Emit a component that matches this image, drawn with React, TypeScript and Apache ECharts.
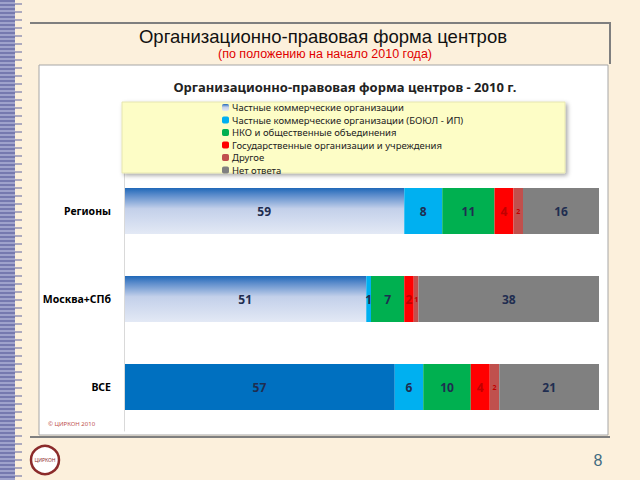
import React, { useEffect, useRef } from "react";
import * as echarts from "echarts";

const categories = ["Регионы", "Москва+СПб", "ВСЕ"];
const seriesNames = [
  "Частные коммерческие организации",
  "Частные коммерческие организации (БОЮЛ - ИП)",
  "НКО и общественные объединения",
  "Государственные организации и учреждения",
  "Другое",
  "Нет ответа",
];
const privateCommercial = [59, 51, 57];
const privateBoyul = [8, 1, 6];
const nko = [11, 7, 10];
const stateOrgs = [4, 2, 4];
const other = [2, 1, 2];
const noAnswer = [16, 38, 21];

const slideTitle = "Организационно-правовая форма центров";
const slideSubtitle = "(по положению на начало 2010 года)";
const chartTitle = "Организационно-правовая форма центров - 2010 г.";
const copyright = "© ЦИРКОН 2010";
const pageNumber = "8";

export default function App() {
  const ref = useRef<HTMLDivElement>(null);
  useEffect(() => {
    if (!ref.current) return;
    const chart = echarts.init(ref.current, null, { renderer: "svg" });
    const grad = new echarts.graphic.LinearGradient(0, 0, 0, 1, [
      { offset: 0, color: "#1f68b8" },
      { offset: 0.15, color: "#5a8bcb" },
      { offset: 0.45, color: "#c3d0ea" },
      { offset: 1, color: "#e3e9f5" },
    ]);
    const labelFont = "'Noto Sans', sans-serif";
    const mkLabel = (color: string, size: number) => ({
      show: true,
      position: "inside",
      color,
      fontSize: size,
      fontWeight: "bold",
      fontFamily: labelFont,
      formatter: (p: any) => (p.value > 0 ? String(p.value) : ""),
    });
    const colors = ["#0070c0", "#00b0f0", "#00b050", "#ff0000", "#c0504d", "#808080"];
    const datas = [privateCommercial, privateBoyul, nko, stateOrgs, other, noAnswer];
    const series = datas.map((d, i) => ({
      name: seriesNames[i],
      type: "bar",
      stack: "total",
      barWidth: 46,
      data:
        i === 0
          ? d.map((v, j) => (j === 2 ? { value: v, itemStyle: { color: "#0070c0" } } : { value: v }))
          : d,
      itemStyle: { color: i === 0 ? grad : colors[i] },
      label:
        i === 3
          ? mkLabel("#c00000", 12)
          : i === 4
          ? mkLabel("#c00000", 7)
          : mkLabel("#1f2d50", 12),
    }));

    // decorative left stripe
    const stripe: any[] = [
      { type: "rect", shape: { x: 0, y: 0, width: 15, height: 480 }, style: { fill: "#9ea2cb" }, z: 1 },
    ];
    for (let y = 1; y < 480; y += 4) {
      stripe.push({
        type: "line",
        shape: { x1: 0, y1: y, x2: 15, y2: y },
        style: { stroke: "#5f64a0", lineWidth: 1.3 },
        z: 2,
      });
    }
    for (let y = 4; y < 480; y += 8) {
      stripe.push({
        type: "line",
        shape: { x1: 15, y1: y, x2: 22, y2: y },
        style: { stroke: "#5f64a0", lineWidth: 1 },
        z: 2,
      });
    }

    chart.setOption({
      animation: false,
      backgroundColor: "#fcf0dc",
      textStyle: { fontFamily: labelFont },
      grid: { left: 124, right: 41, top: 167, height: 264 },
      xAxis: { type: "value", min: 0, max: 100, show: false },
      yAxis: {
        type: "category",
        data: categories,
        inverse: true,
        axisLine: { show: true, lineStyle: { color: "#d9d9d9" } },
        axisTick: { show: false },
        axisLabel: {
          margin: 13,
          color: "#000",
          fontSize: 10.5,
          fontWeight: "bold",
          fontFamily: labelFont,
        },
        z: 3,
      },
      legend: {
        orient: "vertical",
        left: 222,
        top: 102,
        itemWidth: 7,
        itemHeight: 7,
        itemGap: 1.5,
        z: 10,
        padding: [0, 0, 0, 0],
        textStyle: { fontSize: 9.5, lineHeight: 11, color: "#222", fontFamily: labelFont, padding: [0, 0, 0, -2] },
        data: seriesNames,
      },
      graphic: [
        ...stripe,
        { type: "line", shape: { x1: 30, y1: 23, x2: 610, y2: 23 }, style: { stroke: "#7f7f7f", lineWidth: 2 }, z: 1 },
        { type: "line", shape: { x1: 610, y1: 22, x2: 610, y2: 64 }, style: { stroke: "#7f7f7f", lineWidth: 2 }, z: 1 },
        {
          type: "text",
          x: 323,
          y: 36,
          style: {
            text: slideTitle,
            fontSize: 18.5,
            fontFamily: "'Liberation Sans', Arial, sans-serif",
            fill: "#111",
            align: "center",
            verticalAlign: "middle",
          },
          z: 2,
        },
        {
          type: "text",
          x: 325,
          y: 54,
          style: {
            text: slideSubtitle,
            fontSize: 12.5,
            fontFamily: "'Liberation Sans', Arial, sans-serif",
            fill: "#e00000",
            align: "center",
            verticalAlign: "middle",
          },
          z: 2,
        },
        {
          type: "rect",
          shape: { x: 39, y: 65, width: 569, height: 370 },
          style: { fill: "#ffffff", stroke: "#a6a6a6", lineWidth: 1 },
          z: -10,
        },
        { type: "line", shape: { x1: 30, y1: 437, x2: 610, y2: 437 }, style: { stroke: "#7f7f7f", lineWidth: 2 }, z: 1 },
        {
          type: "text",
          x: 345,
          y: 87,
          style: {
            text: chartTitle,
            fontSize: 13,
            fontWeight: "bold",
            fontFamily: labelFont,
            fill: "#222",
            align: "center",
            verticalAlign: "middle",
          },
          z: 2,
        },
        {
          type: "rect",
          shape: { x: 122, y: 102, width: 443, height: 71 },
          style: {
            fill: "#fdfdc6",
            stroke: "#e6e6b0",
            lineWidth: 1,
            shadowBlur: 4,
            shadowOffsetX: 2,
            shadowOffsetY: 2,
            shadowColor: "rgba(0,0,0,0.35)",
          },
          z: 5,
        },
        {
          type: "text",
          x: 48,
          y: 424,
          style: {
            text: copyright,
            fontSize: 6,
            fontFamily: labelFont,
            fill: "#c0504d",
            verticalAlign: "middle",
          },
          z: 2,
        },
        {
          type: "circle",
          shape: { cx: 45, cy: 460, r: 14 },
          style: { fill: "#ffffff", stroke: "#8b2b2b", lineWidth: 2.5 },
          z: 2,
        },
        {
          type: "text",
          x: 45,
          y: 460,
          style: {
            text: "ЦИРКОН",
            fontSize: 5,
            fontFamily: labelFont,
            fill: "#8b2b2b",
            align: "center",
            verticalAlign: "middle",
          },
          z: 3,
        },
        {
          type: "text",
          x: 598,
          y: 460,
          style: {
            text: pageNumber,
            fontSize: 16,
            fontFamily: "'Liberation Sans', Arial, sans-serif",
            fill: "#3f6b80",
            align: "center",
            verticalAlign: "middle",
          },
          z: 2,
        },
      ],
      series,
    });
    return () => chart.dispose();
  }, []);
  return (
    <div
      ref={ref}
      style={{ position: "fixed", left: 0, top: 0, width: 640, height: 480 }}
    />
  );
}
